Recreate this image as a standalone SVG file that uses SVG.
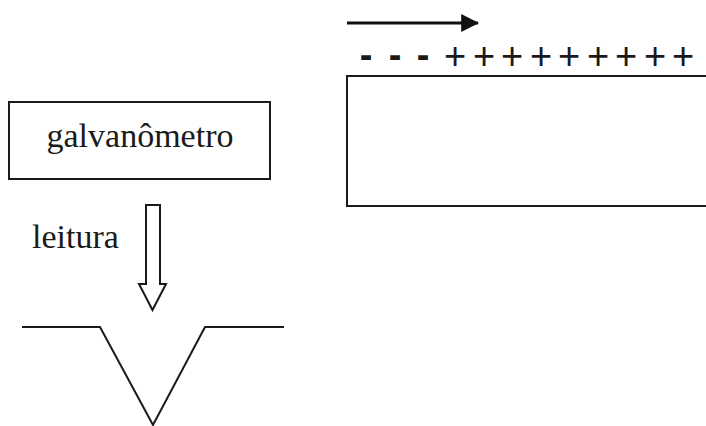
<svg xmlns="http://www.w3.org/2000/svg" width="706" height="426" viewBox="0 0 706 426">
<defs>
<style>
.ln{fill:none;stroke:#1a1a1a;stroke-width:2}
.lbl{font-family:"Liberation Serif","Times New Roman",serif;fill:#1a1a1a}
.chg{font-family:"Liberation Sans",Arial,sans-serif;font-size:38px;fill:#1a1a1a;text-anchor:middle}
.neg{font-weight:bold}
</style>
<marker id="ah" markerWidth="6" markerHeight="6" refX="5.6" refY="3" orient="auto" markerUnits="strokeWidth">
<path d="M0,0 L6,3 L0,6 Z" fill="#111"/>
</marker>
</defs>
<rect width="706" height="426" fill="#fff"/>
<g id="galvanometro">
<rect class="ln" x="9" y="102" width="261" height="77"/>
<text class="lbl" x="140" y="147" font-size="34" text-anchor="middle">galvanômetro</text>
</g>
<g id="leitura">
<text class="lbl" x="32" y="247.5" font-size="34">leitura</text>
</g>
<g id="amostra">
<rect class="ln" x="347" y="76" width="380" height="130"/>
<g class="chg">
<text class="neg" x="366" y="68">-</text>
<text class="neg" x="395" y="68">-</text>
<text class="neg" x="423" y="68">-</text>
<text x="455" y="68.5">+</text>
<text x="484" y="68.5">+</text>
<text x="512" y="68.5">+</text>
<text x="541" y="68.5">+</text>
<text x="569" y="68.5">+</text>
<text x="598" y="68.5">+</text>
<text x="626" y="68.5">+</text>
<text x="655" y="68.5">+</text>
<text x="683" y="68.5">+</text>
</g>
</g>
<g id="sinal">
<polyline class="ln" points="22,327 100,327 153,425 205,327 284,327"/>
</g>
<g id="connectors">
<line x1="347" y1="23" x2="478" y2="23" stroke="#111" stroke-width="3" marker-end="url(#ah)"/>
<path class="ln" d="M146,205 L160,205 L160,284 L166,284 L152.5,310 L139,284 L146,284 Z"/>
</g>
</svg>
